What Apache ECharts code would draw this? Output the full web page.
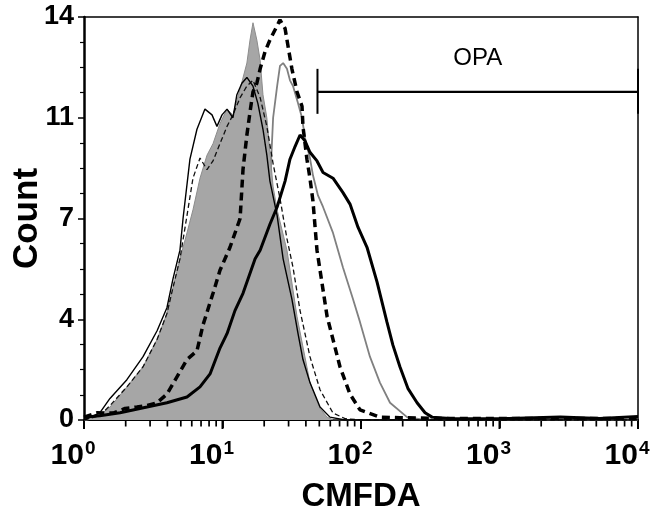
<!DOCTYPE html>
<html>
<head>
<meta charset="utf-8">
<script src="https://cdn.jsdelivr.net/npm/echarts@6/dist/echarts.min.js"></script>
<style>
html,body{margin:0;padding:0;background:#fff;}
#chart{width:650px;height:522px;}
</style>
</head>
<body>
<div id="chart"></div>
<script>
// ---- data (CMFDA fluorescence, event count) ----
const controlX = [1, 1.30, 1.54, 2.04, 2.67, 3.37, 3.97, 4.39, 4.93, 5.54, 6.12, 6.88, 7.73, 8.54, 9.59, 10.78, 11.9, 13.4, 15.0, 15.8, 16.6, 17.7, 18.7, 19.6, 20.9, 22.0, 23.2, 24.8, 29.2, 34.5, 42.8, 50.6, 56.9, 63, 10000];
const controlY = [0, 0.17, 0.45, 1.15, 1.85, 2.8, 3.7, 4.6, 5.6, 6.5, 7.3, 8.4, 9.2, 9.6, 10.3, 10.8, 10.6, 11.5, 12.4, 13.2, 13.8, 13.2, 12.5, 11.3, 10.5, 9.3, 8.1, 7.3, 5.9, 3.6, 1.3, 0.4, 0.1, 0, 0];

const thinSolidX = [1, 1.30, 1.54, 2.04, 2.67, 3.37, 3.97, 4.39, 4.93, 5.19, 5.82, 6.54, 7.47, 8.40, 9.12, 9.92, 10.78, 11.9, 12.7, 13.8, 15.0, 16.6, 18.0, 19.6, 20.9, 22.0, 24.8, 27.4, 31.7, 35.1, 38.1, 42.8, 50.6, 59.7, 76.7, 10000];
const thinSolidY = [0, 0.25, 0.75, 1.4, 2.2, 3.1, 3.9, 4.9, 5.9, 7.0, 9.06, 10.1, 10.8, 10.6, 10.2, 10.6, 10.8, 10.5, 11.3, 11.7, 11.9, 11.6, 11.0, 10.1, 9.2, 8.3, 7.1, 5.6, 4.2, 3.0, 2.1, 1.3, 0.45, 0.1, 0, 0];

const thinDashX = [1, 1.30, 1.54, 2.04, 2.67, 3.37, 3.97, 4.39, 4.93, 5.54, 6.12, 6.88, 7.73, 8.54, 9.59, 10.78, 11.9, 13.4, 15.0, 16.6, 18.7, 20.9, 23.2, 26.0, 29.2, 32.3, 36.3, 42.8, 50.6, 62.8, 76.7, 98.4, 10000];
const thinDashY = [0, 0.15, 0.5, 1.15, 1.85, 2.8, 3.7, 4.6, 5.6, 7.1, 8.4, 9.1, 8.7, 9.0, 9.6, 10.2, 10.6, 11.2, 11.6, 11.8, 11.2, 10.2, 8.9, 7.7, 6.3, 5.3, 3.8, 2.2, 1.05, 0.24, 0.05, 0, 0];

const thickDashX = [1, 1.24, 1.62, 1.98, 2.41, 2.85, 3.37, 3.97, 4.69, 5.54, 6.54, 7.23, 8.54, 9.59, 11.33, 13.4, 14.06, 15.0, 15.8, 16.6, 17.7, 18.7, 20.3, 22.0, 24.8, 26.0, 28.3, 29.7, 31.7, 34.5, 37.5, 38.1, 40.7, 42.8, 45.0, 48.1, 56.9, 70.5, 83.3, 98.4, 137, 191, 400, 1000, 3000, 10000];
const thickDashY = [0.1, 0.25, 0.24, 0.4, 0.45, 0.5, 0.6, 0.9, 1.5, 2.1, 2.4, 3.3, 4.4, 5.2, 6.0, 7.0, 8.7, 9.9, 10.7, 11.4, 11.7, 12.2, 12.8, 13.2, 13.7, 13.9, 13.6, 13.0, 12.2, 11.4, 10.9, 10.2, 9.06, 8.4, 7.6, 5.9, 3.6, 1.85, 0.9, 0.35, 0.1, 0.08, 0.05, 0.05, 0.05, 0.05];

const grayLineX = [1, 2.15, 3.54, 4.93, 6.88, 9.59, 13.4, 15.8, 18.7, 20.6, 22.0, 23.2, 24.8, 26.0, 27.4, 29.2, 30.7, 32.3, 35.1, 37.5, 39.4, 42.8, 45.0, 48.9, 53.2, 62.8, 74.1, 87.5, 98.4, 116, 137, 162, 215, 267, 10000];
const grayLineY = [0, 0.3, 0.8, 1.6, 2.8, 4.5, 6.0, 6.5, 6.8, 7.0, 8.1, 10.5, 11.6, 12.3, 12.4, 12.2, 11.8, 11.6, 11.0, 10.5, 9.8, 9.1, 8.5, 7.8, 7.4, 6.5, 5.3, 4.2, 3.4, 2.2, 1.3, 0.6, 0.1, 0.03, 0];

const thickSolidX = [1, 1.30, 1.82, 2.85, 3.97, 5.54, 6.88, 8.13, 9.59, 10.78, 12.3, 14.06, 17.2, 18.7, 22.0, 24.8, 28.3, 30.7, 33.4, 36.3, 39.4, 42.8, 48.1, 53.2, 62.8, 74.1, 83.3, 95.1, 110.5, 130.5, 154, 170, 191, 218, 254, 290, 326, 439, 1009, 2750, 5321, 10000];
const thickSolidY = [0.1, 0.15, 0.25, 0.45, 0.6, 0.8, 1.15, 1.6, 2.5, 3.0, 3.8, 4.4, 5.6, 5.9, 6.8, 7.4, 8.3, 9.06, 9.5, 9.9, 9.7, 9.3, 9.0, 8.6, 8.4, 7.9, 7.5, 6.7, 6.0, 4.8, 3.4, 2.6, 1.85, 1.1, 0.6, 0.25, 0.1, 0.05, 0.04, 0.1, 0.05, 0.12];

// gate marker
const gateStart = 48.5;
const gateEnd = 10000;
const gateLevel = 11.4;
const gateLabel = 'OPA';

// axes
const xMin = 1, xMax = 10000;
const yMin = 0, yMax = 14, yStep = 3.5;
const majorTickValues = [1, 10, 100, 1000, 10000];
const decadeStarts = [1, 10, 100, 1000];
const minorMultipliers = [2, 3, 4, 5, 6, 7, 8, 9];

const minorTickValues = [];
decadeStarts.forEach(d => minorMultipliers.forEach(m => minorTickValues.push(d * m)));

const pairs = (xs, ys) => xs.map((x, i) => [x, ys[i]]);

const NARROW = "'Liberation Sans Narrow', 'Arial Narrow', 'Liberation Sans', Arial, sans-serif";
const SANS = "'Liberation Sans', Arial, sans-serif";

const chart = echarts.init(document.getElementById('chart'), null, {renderer: 'canvas'});

chart.setOption({
  animation: false,
  backgroundColor: '#fff',
  grid: {left: 84, right: 12, top: 17, bottom: 102, containLabel: false, outerBoundsMode: 'none'},
  xAxis: [{
    type: 'log', logBase: 10, min: xMin, max: xMax,
    axisLine: {show: true, onZero: false, lineStyle: {color: '#000', width: 2}},
    axisTick: {show: true, inside: false, length: 8, lineStyle: {color: '#000', width: 1.8}},
    splitLine: {show: false},
    axisLabel: {
      show: true, margin: 19, showMinLabel: true, showMaxLabel: true,
      padding: [0, 22, 0, 0],
      formatter: v => '{b|10}{s|' + Math.round(Math.log10(v)) + '}',
      rich: {
        b: {fontFamily: NARROW, fontWeight: 'bold', fontSize: 30, lineHeight: 32, padding: [8, 0, 0, 0], color: '#000', verticalAlign: 'bottom'},
        s: {fontFamily: NARROW, fontWeight: 'bold', fontSize: 19, lineHeight: 19, color: '#000', verticalAlign: 'top', padding: [0, 0, 0, 1]}
      }
    },
    name: 'CMFDA', nameLocation: 'middle', nameGap: 60, nameMoveOverlap: false,
    nameTextStyle: {fontFamily: SANS, fontWeight: 'bold', fontSize: 33, color: '#000'}
  }, {
    type: 'log', logBase: 10, min: xMin, max: xMax, position: 'top',
    axisLine: {show: true, onZero: false, lineStyle: {color: '#000', width: 1.5}},
    axisTick: {show: false}, axisLabel: {show: false}, splitLine: {show: false}
  }],
  yAxis: [{
    type: 'value', min: yMin, max: yMax, interval: yStep,
    axisLine: {show: true, onZero: false, lineStyle: {color: '#000', width: 2.5}},
    axisTick: {show: true, inside: false, length: 6, lineStyle: {color: '#000', width: 1.5}},
    minorTick: {show: true, splitNumber: 4, length: 4, lineStyle: {color: '#000', width: 1.2}},
    splitLine: {show: false},
    axisLabel: {
      margin: 10, formatter: v => String(Math.round(v)),
      fontFamily: NARROW, fontWeight: 'bold', fontSize: 27, color: '#000'
    },
    name: 'Count', nameLocation: 'middle', nameGap: 39, nameRotate: 90, nameMoveOverlap: false,
    nameTextStyle: {fontFamily: SANS, fontWeight: 'bold', fontSize: 35, color: '#000'}
  }, {
    type: 'value', min: yMin, max: yMax, position: 'right',
    axisLine: {show: true, onZero: false, lineStyle: {color: '#000', width: 1.5}},
    axisTick: {show: false}, axisLabel: {show: false}, splitLine: {show: false}
  }],
  series: [
    {
      name: 'gray', type: 'line', data: pairs(grayLineX, grayLineY), showSymbol: false, symbol: 'none',
      lineStyle: {color: '#808080', width: 1.8}, z: 2
    },
    {
      name: 'control', type: 'line', data: pairs(controlX, controlY), showSymbol: false, symbol: 'none',
      lineStyle: {color: '#8c8c8c', width: 1}, areaStyle: {color: '#a6a6a6', opacity: 1, origin: 'start'}, z: 3
    },
    {
      name: 'thinDash', type: 'line', data: pairs(thinDashX, thinDashY), showSymbol: false, symbol: 'none',
      lineStyle: {color: '#111', width: 1.3, type: [5, 3]}, z: 4
    },
    {
      name: 'thinSolid', type: 'line', data: pairs(thinSolidX, thinSolidY), showSymbol: false, symbol: 'none',
      lineStyle: {color: '#000', width: 1.4}, z: 5
    },
    {
      name: 'thickDash', type: 'line', data: pairs(thickDashX, thickDashY), showSymbol: false, symbol: 'none',
      lineStyle: {color: '#000', width: 3.5, type: [8, 5]}, z: 6
    },
    {
      name: 'thickSolid', type: 'line', data: pairs(thickSolidX, thickSolidY), showSymbol: false, symbol: 'none',
      lineStyle: {color: '#000', width: 3}, z: 7
    },
    {
      name: 'gate', type: 'custom', clip: false, silent: true, z: 11,
      data: [[gateStart, gateEnd, gateLevel]],
      encode: {x: [0, 1], y: 2},
      renderItem: (params, api) => {
        const a = api.coord([api.value(0), api.value(2)]);
        const b = api.coord([api.value(1), api.value(2)]);
        const m = api.coord([Math.sqrt(api.value(0) * api.value(1)), api.value(2)]);
        return {type: 'group', children: [
          {type: 'line', shape: {x1: a[0], y1: a[1], x2: b[0], y2: b[1]}, style: {stroke: '#000', lineWidth: 2.2}},
          {type: 'line', shape: {x1: a[0], y1: a[1] - 23, x2: a[0], y2: a[1] + 22}, style: {stroke: '#000', lineWidth: 2}},
          {type: 'line', shape: {x1: b[0], y1: b[1] - 23, x2: b[0], y2: b[1] + 22}, style: {stroke: '#000', lineWidth: 2}},
          {type: 'text', x: m[0], y: a[1] - 33, style: {text: gateLabel, fontSize: 24, fontFamily: NARROW, fill: '#000', align: 'center', verticalAlign: 'middle'}}
        ]};
      }
    }
  ]
});

// log ticks on the x axis (major + minor), positioned through the axis scale
const tickDefs = majorTickValues.map(v => ({v: v, len: 8, w: 2}))
  .concat(minorTickValues.map(v => ({v: v, len: 5.5, w: 1.7})));
chart.setOption({
  graphic: tickDefs.map(t => {
    const p = chart.convertToPixel({xAxisIndex: 0, yAxisIndex: 0}, [t.v, yMin]);
    return {type: 'line', silent: true, z: 100,
      shape: {x1: p[0], y1: p[1] + 1, x2: p[0], y2: p[1] + 1 + t.len},
      style: {stroke: '#000', lineWidth: t.w}};
  })
});
</script>
</body>
</html>
